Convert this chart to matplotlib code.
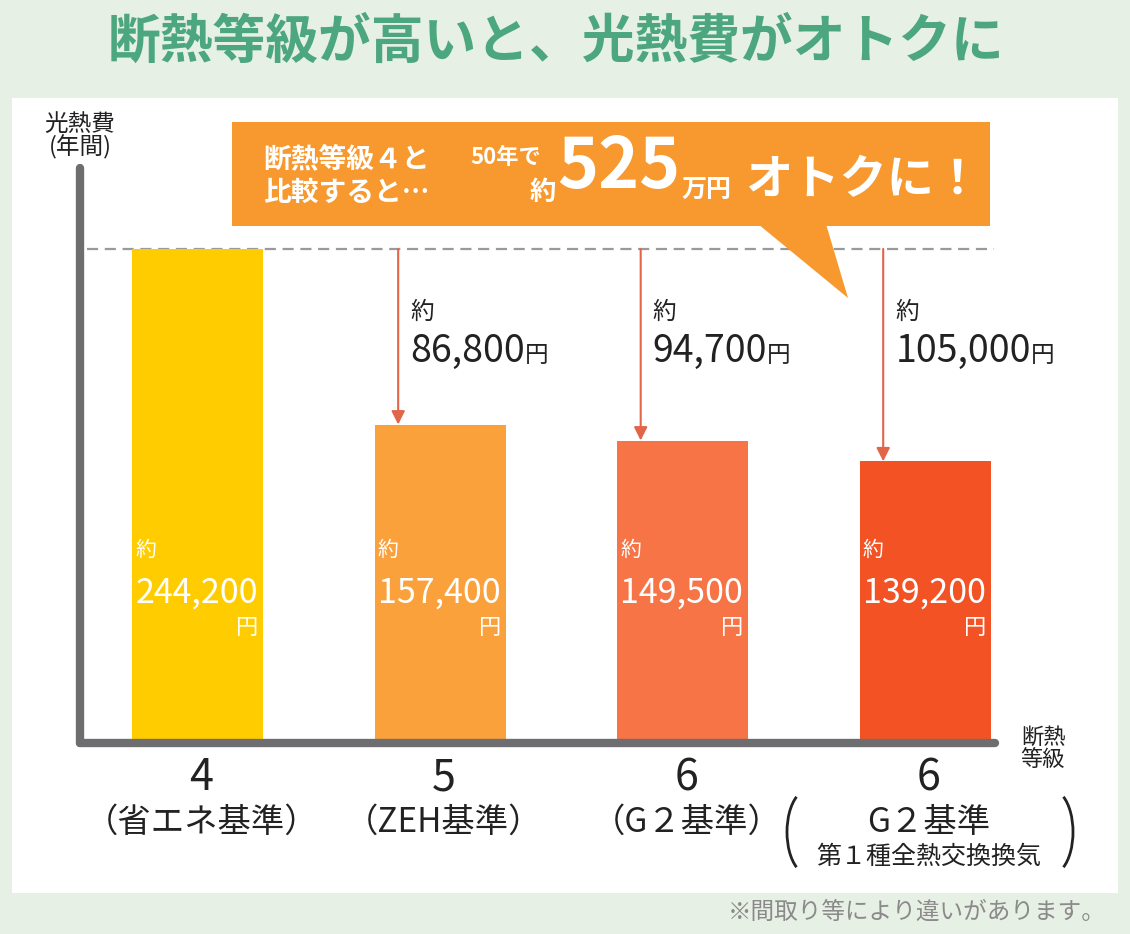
import matplotlib
matplotlib.use('Agg')
import matplotlib.pyplot as plt
import matplotlib.transforms as mtransforms
from matplotlib.patches import Rectangle, Polygon, Arc
import numpy as np

plt.rcParams['font.family'] = ['Noto Sans CJK JP', 'DejaVu Sans']

# データ
grades = ['4', '5', '6', '6']
grade_names = ['（省エネ基準）', '（ZEH基準）', '（G２基準）', 'G２基準']
grade_sub = ['', '', '', '第１種全熱交換換気']
costs = [244200, 157400, 149500, 139200]   # 光熱費（年間, 円）
bar_colors = ['#FFCC00', '#FBA13B', '#F77447', '#F35225']
saving_50y = 525   # 50年で（万円）

W, H = 1130, 934
fig = plt.figure(figsize=(W / 100, H / 100), dpi=100)
fig.patch.set_facecolor('#E7F0E4')

# 背景（ピクセル座標）
bg = fig.add_axes([0, 0, 1, 1], zorder=0)
bg.set_xlim(0, W)
bg.set_ylim(H, 0)
bg.axis('off')
bg.add_patch(Rectangle((12, 98), 1106, 795, fc='white', ec='none'))
bg.text(556, 42, '断熱等級が高いと、光熱費がオトクに', ha='center', va='center',
        fontsize=38, fontweight='bold', color='#4CA67E')
bg.text(1106, 912, '※間取り等により違いがあります。', ha='right', va='center',
        fontsize=17, color='#8A8A8A')
bg.text(80, 136, '光熱費\n(年間)', ha='center', va='center', fontsize=17,
        linespacing=0.95, color='#222222')
bg.text(1043, 748, '断熱\n等級', ha='center', va='center', fontsize=16,
        linespacing=0.95, color='#222222')

# グラフ本体
L, R, B, T = 80, 995, 743, 168
ax = fig.add_axes([L / W, 1 - B / H, (R - L) / W, (B - T) / H], zorder=1)
ax.patch.set_alpha(0)
x = np.arange(len(costs))
ax.set_xlim(-0.48, 3.293)
ax.set_ylim(0, 284200)
ax.bar(x + 0.005, costs, width=0.54, color=bar_colors, zorder=2)
for s in ['top', 'right']:
    ax.spines[s].set_visible(False)
for s in ['left', 'bottom']:
    ax.spines[s].set_linewidth(6)
    ax.spines[s].set_color('#6E6E70')
    ax.spines[s].set_capstyle('round')
    ax.spines[s].set_zorder(3)
ax.set_xticks([])
ax.set_yticks([])

ax.hlines(costs[0], -0.45, 3.29, colors='#9A9A9A', linestyles=(0, (5, 3)), lw=1.6, zorder=1)

trans = mtransforms.blended_transform_factory(ax.transData, ax.transAxes)

# 差額の矢印とラベル
for i in range(1, len(costs)):
    diff = costs[0] - costs[i]
    ax.annotate('', xy=(x[i] - 0.168, costs[i]), xytext=(x[i] - 0.168, costs[0]),
                arrowprops=dict(arrowstyle='-|>', color='#E2654A', lw=1.5,
                                mutation_scale=20, shrinkA=0, shrinkB=0), zorder=3)
    ax.text(x[i] - 0.118, 0.7496, '約', transform=trans, fontsize=17, va='center', color='#222222')
    t = ax.text(x[i] - 0.118, 0.6818, f'{diff:,}', transform=trans, fontsize=27,
                va='center', color='#222222')
    ax.annotate('円', xy=(1, 0.1), xycoords=t, va='bottom', ha='left', fontsize=17, color='#222222')

# 棒の中の金額
for i, c in enumerate(costs):
    ax.text(x[i] - 0.252, 0.3357, '約', transform=trans, fontsize=15, va='center', color='white', zorder=4)
    ax.text(x[i] - 0.252, 0.2609, f'{c:,}', transform=trans, fontsize=24.5, va='center', color='white', zorder=4)
    ax.text(x[i] + 0.255, 0.2, '円', transform=trans, fontsize=16, va='center', ha='right', color='white', zorder=4)

# 等級ラベル
for i in range(len(costs)):
    ax.text(x[i] + 0.02, -0.0609, grades[i], transform=trans, fontsize=31, ha='center', va='center',
            color='#222222', clip_on=False)
    ax.text(x[i] + 0.02, -0.1374, grade_names[i], transform=trans, fontsize=24, ha='center', va='center',
            color='#222222', clip_on=False)
    if grade_sub[i]:
        ax.text(x[i] + 0.02, -0.198, grade_sub[i], transform=trans, fontsize=18, ha='center',
                va='center', color='#222222', clip_on=False)

# 吹き出し（前面）
fg = fig.add_axes([0, 0, 1, 1], zorder=5)
fg.set_xlim(0, W)
fg.set_ylim(H, 0)
fg.axis('off')
fg.patch.set_alpha(0)
co = '#F7992F'
fg.add_patch(Rectangle((232, 122), 758, 104, fc=co, ec='none'))
fg.add_patch(Polygon([(758, 224), (826, 224), (848, 298)], closed=True, fc=co, ec='none'))
fg.text(263, 159, '断熱等級４と', fontsize=20, fontweight='bold', color='white', va='center')
fg.text(263, 193, '比較すると…', fontsize=20, fontweight='bold', color='white', va='center')
fg.text(470, 157, '50年で', fontsize=16, fontweight='bold', color='white', va='center')
fg.text(556, 193, '約', fontsize=19, fontweight='bold', color='white', va='center', ha='right')
fg.text(557, 168, f'{saving_50y}', fontsize=50, fontweight='bold', color='white', va='center')
fg.text(682, 191, '万円', fontsize=18, fontweight='bold', color='white', va='center')
fg.text(745, 180, 'オトクに！', fontsize=34, fontweight='bold', color='white', va='center')

# ４番目の大きな括弧
fg.add_patch(Arc((808, 832), 42, 84, theta1=108, theta2=252, color='#222222', lw=2))
fg.add_patch(Arc((1052, 832), 42, 84, theta1=-72, theta2=72, color='#222222', lw=2))

fig.savefig('out.png', dpi=100, facecolor=fig.get_facecolor())
